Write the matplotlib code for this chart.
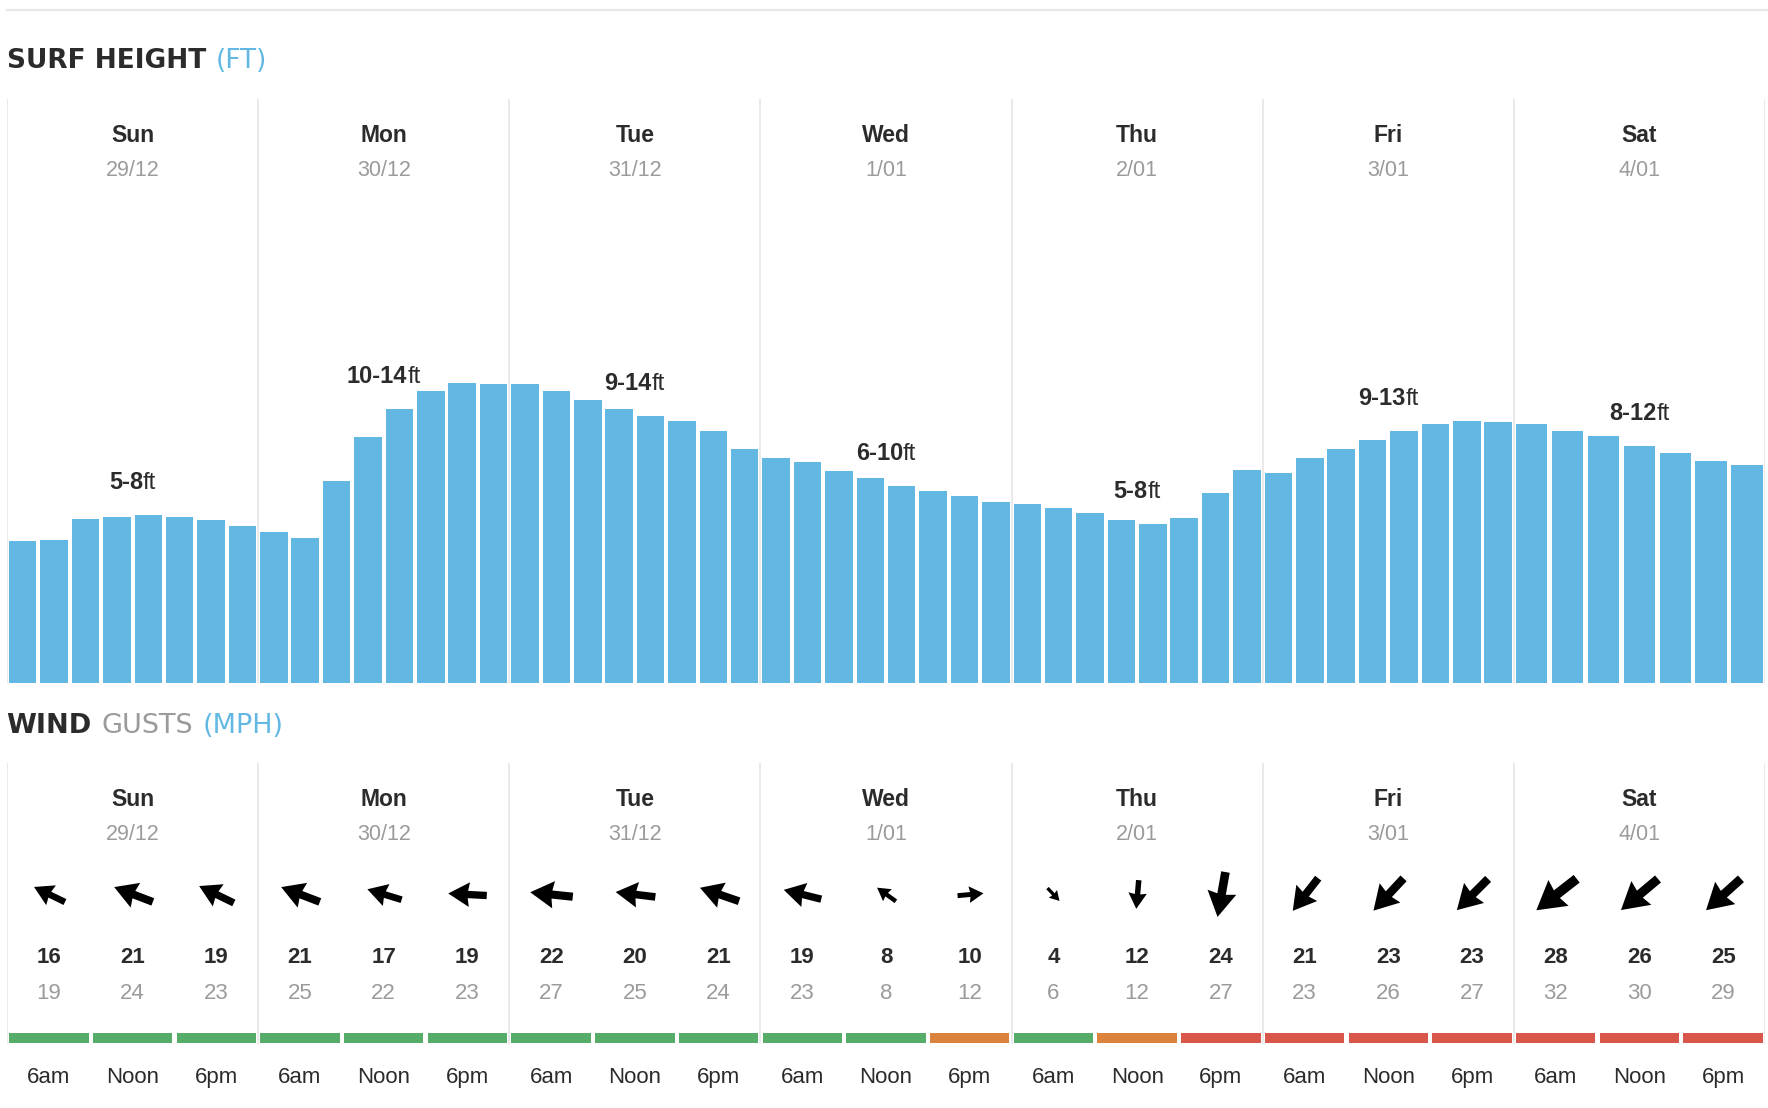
import matplotlib
matplotlib.use("Agg")
import matplotlib.pyplot as plt
from matplotlib import transforms
from matplotlib.lines import Line2D
from matplotlib.markers import MarkerStyle
from matplotlib.path import Path

W, H = 1768, 1108

DAYS = ["Sun", "Mon", "Tue", "Wed", "Thu", "Fri", "Sat"]
DATES = ["29/12", "30/12", "31/12", "1/01", "2/01", "3/01", "4/01"]

# surf height per forecast step (ft), one list per day
surf_sun = [6.62, 6.67, 7.65, 7.74, 7.84, 7.74, 7.60, 7.32]
surf_mon = [7.04, 6.76, 9.43, 11.48, 12.79, 13.63, 14.00, 13.96]
surf_tue = [13.96, 13.63, 13.21, 12.79, 12.46, 12.23, 11.76, 10.92]
surf_wed = [10.50, 10.31, 9.89, 9.57, 9.19, 8.96, 8.72, 8.44]
surf_thu = [8.35, 8.16, 7.93, 7.60, 7.42, 7.70, 8.86, 9.94]
surf_fri = [9.80, 10.50, 10.92, 11.34, 11.76, 12.09, 12.23, 12.18]
surf_sat = [12.09, 11.76, 11.53, 11.06, 10.73, 10.36, 10.17]
surf = [surf_sun, surf_mon, surf_tue, surf_wed, surf_thu, surf_fri, surf_sat]

surf_ranges = ["5-8", "10-14", "9-14", "6-10", "5-8", "9-13", "8-12"]
range_label_ft = [9.05, 14.0, 13.7, 10.4, 8.65, 13.0, 12.3]

TIMES = ["6am", "Noon", "6pm"]
wind_speed = [16, 21, 19, 21, 17, 19, 22, 20, 21, 19, 8, 10, 4, 12, 24, 21, 23, 23, 28, 26, 25]
wind_gust = [19, 24, 23, 25, 22, 23, 27, 25, 24, 23, 8, 12, 6, 12, 27, 23, 26, 27, 32, 30, 29]
# direction the arrow points, degrees counter-clockwise from east
wind_dir = [154, 159, 154, 159, 163, 177, 174, 173, 161, 166, 144, 5,
            -47, -95, -100, -128, -133, -135, -142, -140, -138]
wind_rating = ["good"] * 11 + ["fair", "good", "fair"] + ["poor"] * 7

BLUE = "#62b8e3"
DARK = "#2b2b2b"
GREY = "#9b9b9b"
LINE = "#e8e8e8"
RATING_COLORS = {"good": "#55ad69", "fair": "#db823c", "poor": "#d8574a"}

plt.rcParams["font.family"] = ["Liberation Sans", "DejaVu Sans"]

fig = plt.figure(figsize=(W / 100, H / 100), dpi=100)
renderer = fig.canvas.get_renderer()


def put_pieces(x, y, pieces, transform, align="center", gap=0.0):
    texts = [fig.text(x, y, s, transform=transform, ha="left", va="baseline", **kw)
             for s, kw in pieces]
    widths = [t.get_window_extent(renderer).width for t in texts]
    total = sum(widths) + gap * (len(texts) - 1)
    offset = -total / 2 if align == "center" else 0.0
    for t, w in zip(texts, widths):
        t.set_transform(transforms.offset_copy(transform, fig=fig, x=offset, y=0, units="dots"))
        offset += w + gap


def fy(px):
    return 1 - px / H


# top rule
fig.add_artist(Line2D([7 / W, 1], [fy(10), fy(10)], color=LINE, lw=1.6))

title_kw = dict(family="DejaVu Sans", fontsize=19)
put_pieces(7 / W, fy(68), [("SURF HEIGHT", dict(weight="bold", color=DARK, **title_kw)),
                           ("(FT)", dict(color=BLUE, **title_kw))],
           fig.transFigure, align="left", gap=9)
put_pieces(6 / W, fy(733), [("WIND", dict(weight="bold", color=DARK, fontsize=19.5,
                                          family="DejaVu Sans")),
                            ("GUSTS", dict(color=GREY, fontsize=19.5, family="DejaVu Sans")),
                            ("(MPH)", dict(color=BLUE, fontsize=19.5, family="DejaVu Sans"))],
           fig.transFigure, align="left", gap=10)

# ---- surf height panel
top, bottom = 99, 683
ax_s = fig.add_axes([7 / W, fy(bottom), 1758 / W, (bottom - top) / H])
ax_s.set_xlim(0, 7)
ax_s.set_ylim(0, (bottom - top) / 21.4)
ax_s.axis("off")

for d, vals in enumerate(surf):
    n = len(vals)
    xs = [d + (j + 0.5) / n for j in range(n)]
    ax_s.bar(xs, vals, width=0.875 / n, color=BLUE, zorder=2)
for d in range(8):
    ax_s.axvline(d, color=LINE, lw=1.3, zorder=1)

xt = ax_s.get_xaxis_transform()
for d, (day, date) in enumerate(zip(DAYS, DATES)):
    ax_s.text(d + 0.5, (bottom - 142) / (bottom - top), day, transform=xt, ha="center",
              va="baseline", fontsize=16.5, weight="bold", color=DARK)
    ax_s.text(d + 0.5, (bottom - 176) / (bottom - top), date, transform=xt, ha="center",
              va="baseline", fontsize=15.5, color=GREY)
    put_pieces(d + 0.5, range_label_ft[d],
               [(surf_ranges[d], dict(fontsize=17, weight="bold", color=DARK)),
                ("ft", dict(fontsize=17, color=DARK))],
               ax_s.transData)

# ---- wind panel
wtop, wbot = 763, 1100
ax_w = fig.add_axes([7 / W, fy(wbot), 1758 / W, (wbot - wtop) / H])
ax_w.set_xlim(0, 21)
ax_w.set_ylim(0, 1)
ax_w.axis("off")


def wy(px):
    return (wbot - px) / (wbot - wtop)


for d in range(8):
    ax_w.axvline(3 * d, ymin=wy(1043), ymax=1, color=LINE, lw=1.3, zorder=0)

for d, (day, date) in enumerate(zip(DAYS, DATES)):
    ax_w.text(3 * d + 1.5, wy(806), day, ha="center", va="baseline",
              fontsize=16.5, weight="bold", color=DARK)
    ax_w.text(3 * d + 1.5, wy(840), date, ha="center", va="baseline",
              fontsize=15.5, color=GREY)

arrow = Path([(0.5, 0), (-0.05, 0.32), (-0.01, 0.095), (-0.5, 0.095),
              (-0.5, -0.095), (-0.01, -0.095), (-0.05, -0.32), (0.5, 0)],
             [Path.MOVETO] + [Path.LINETO] * 6 + [Path.CLOSEPOLY])

xs = [i + 0.5 for i in range(len(wind_speed))]
for i, (spd, gust, ang, rate) in enumerate(zip(wind_speed, wind_gust, wind_dir, wind_rating)):
    m = MarkerStyle(arrow, transform=transforms.Affine2D().rotate_deg(ang))
    ax_w.plot(xs[i], wy(894), marker=m, ms=(12 + 1.4 * spd) * 0.72,
              color="black", mew=0, ls="none")
    ax_w.text(xs[i], wy(963), str(spd), ha="center", va="baseline",
              fontsize=16, weight="bold", color=DARK)
    ax_w.text(xs[i], wy(999), str(gust), ha="center", va="baseline",
              fontsize=16, color=GREY)
    ax_w.text(xs[i], wy(1083), TIMES[i % 3], ha="center", va="baseline",
              fontsize=16, color=DARK)

ax_w.bar(xs, wy(1033) - wy(1043), bottom=wy(1043), width=0.95,
         color=[RATING_COLORS[r] for r in wind_rating])

fig.savefig("out.png", dpi=100)
